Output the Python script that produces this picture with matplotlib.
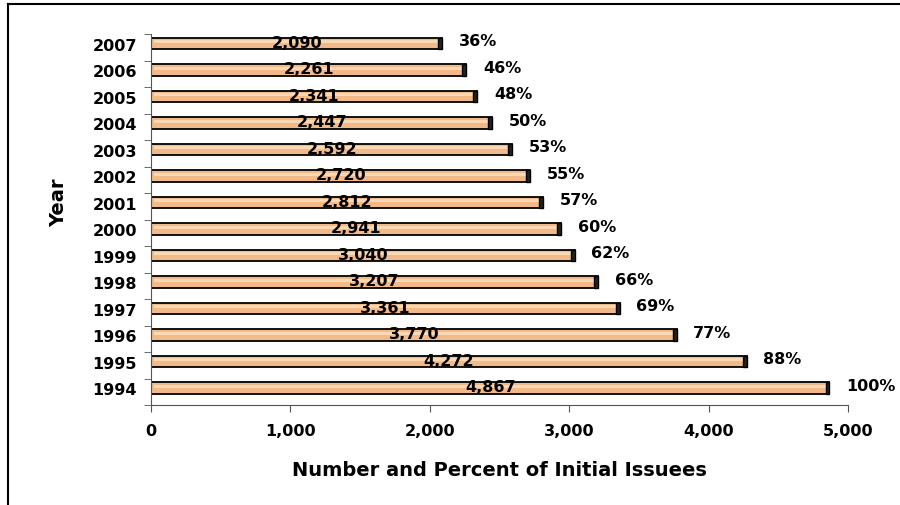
import matplotlib
matplotlib.use("Agg")
import matplotlib.pyplot as plt
from matplotlib.lines import Line2D

plt.rcParams['font.family'] = ['DejaVu Sans']

years = ['1994', '1995', '1996', '1997', '1998', '1999', '2000',
         '2001', '2002', '2003', '2004', '2005', '2006', '2007']
issuees = [4867, 4272, 3770, 3361, 3207, 3040, 2941,
           2812, 2720, 2592, 2447, 2341, 2261, 2090]
percents = [100, 88, 77, 69, 66, 62, 60, 57, 55, 53, 50, 48, 46, 36]

fig = plt.figure(figsize=(9, 5.06), dpi=100)
ax = fig.add_axes([0.1678, 0.1976, 0.7744, 0.7332])

# frame lines like the original slide box
fig.add_artist(Line2D([8 / 900, 1], [1 - 5 / 506, 1 - 5 / 506], color='black', lw=1.5, transform=fig.transFigure))
fig.add_artist(Line2D([8 / 900, 8 / 900], [0, 1 - 5 / 506], color='black', lw=1.5, transform=fig.transFigure))

pos = [i + 0.14 for i in range(len(years))]
h = 0.42
# main bars
ax.barh(pos, issuees, height=h, color='#F1BA88', edgecolor='black', linewidth=1.3, zorder=2)
# highlight stripe for the tube look
ax.barh([p + 0.07 for p in pos], [v - 40 for v in issuees], left=20, height=0.12,
        color='#FAD8B4', linewidth=0, zorder=3)
# dark end cap
ax.barh(pos, [28] * len(issuees), left=[v - 28 for v in issuees], height=h,
        color='#222222', edgecolor='black', linewidth=1.0, zorder=4)

for p, v, pc in zip(pos, issuees, percents):
    ax.text(v / 2, p + 0.05, f'{v:,}', ha='center', va='center', fontsize=11.5,
            fontweight='bold', zorder=5)
    ax.annotate(f'{pc}%', xy=(v, p + 0.1), xytext=(12, 0), textcoords='offset points',
                ha='left', va='center', fontsize=11.5, fontweight='bold')

ax.set_xlim(0, 5000)
ax.set_ylim(-0.5, len(years) - 0.5)
ax.set_xticks(range(0, 5001, 1000))
ax.set_xticklabels([f'{x:,}' for x in range(0, 5001, 1000)], fontsize=11.5, fontweight='bold')
ax.set_yticks(pos)
ax.set_yticklabels(years, fontsize=11.5, fontweight='bold')
ax.set_yticks([i - 0.5 for i in range(len(years) + 1)], minor=True)
ax.tick_params(axis='y', which='major', length=0, pad=10)
ax.tick_params(axis='y', which='minor', length=5, direction='out', color='#555555')
ax.tick_params(axis='x', length=5, direction='out', color='#555555', pad=8)

for s in ['top', 'right']:
    ax.spines[s].set_visible(False)
ax.spines['left'].set_color('#555555')
ax.spines['bottom'].set_color('#555555')

ax.set_xlabel('Number and Percent of Initial Issuees', fontsize=14, fontweight='bold')
ax.xaxis.set_label_coords(0.5, -0.148)
ax.set_ylabel('Year', fontsize=14, fontweight='bold')
ax.yaxis.set_label_coords(-0.119, 0.547)

fig.savefig('out.png', dpi=100)
